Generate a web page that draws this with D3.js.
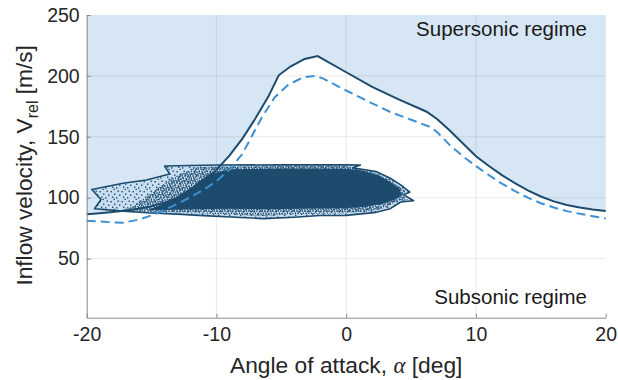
<!DOCTYPE html>
<html>
<head>
<meta charset="utf-8">
<script src="https://cdn.jsdelivr.net/npm/d3@7"></script>
<style>
  body { margin: 0; background: #fff; }
  svg { display: block; }
  text { font-family: "Liberation Sans", Arial, Helvetica, sans-serif; }
</style>
</head>
<body>
<svg id="chart" width="618" height="380"></svg>
<script>
// Axis ticks
const xTicks = [-20, -10, 0, 10, 20];
const yTicks = [50, 100, 150, 200, 250];

// Supersonic boundary (solid): angle of attack [deg] -> inflow velocity [m/s]
const boundaryAlpha = [-20, -19, -18, -17, -16, -15, -14, -13, -12, -11, -10, -9, -8, -7, -6, -5.2, -4.3, -3.2, -2.2, 0, 2, 4, 6.2, 7, 8, 9, 10, 11, 12, 13, 14, 15, 16, 17, 18, 19, 20];
const boundaryV     = [86.5, 87.3, 88.3, 89.5, 91, 93, 96, 100, 106, 113.5, 123, 134.5, 148.5, 165, 183, 200.5, 207.7, 213.9, 216.3, 203, 191, 181, 170.6, 164.6, 155, 144.5, 134, 126, 118.5, 112, 106, 101, 97, 94, 92, 90.3, 89];

// Second boundary (dashed)
const dashedAlpha = [-20, -19, -18, -17.2, -16, -15, -14, -13, -12, -11, -10, -9, -8, -7.4, -6.5, -5.5, -4.5, -3.3, -2.4, -1.8, 0, 1, 2, 3.4, 5, 6.5, 7, 8, 9, 10, 11, 12, 13, 14, 15, 16, 17, 18, 19, 20];
const dashedV     = [81, 80.5, 79.8, 79.5, 82, 85.5, 90, 95, 100.5, 106.5, 113.5, 123, 136, 148, 166, 182.5, 192.5, 198.9, 199.9, 198, 188, 182.8, 177.5, 170.4, 164, 158, 154, 143, 134, 126, 118.5, 111.5, 105.5, 100, 95.5, 92, 89, 86.8, 84.8, 83];

// Operating points: outer envelope of the scatter
const envelopeAlpha = [-19.6, -17.2, -15.4, -13.6, -14.0, -10, -5, 0, 1.1, 0.5, 2.3, 3.4, 4.2, 4.9, 4.4, 5.2, 4.2, 3.4, 2.3, 0, -2, -4, -6.4, -8.5, -11, -13, -15, -17.2, -19.4, -18.9];
const envelopeV     = [106.8, 111.9, 114.6, 119.5, 126, 126.8, 127, 127, 126.9, 124.5, 121.5, 116, 110.5, 104.5, 102.5, 97.5, 96.5, 91, 88, 85.5, 85.4, 84, 82.8, 84, 85.3, 86.5, 87.5, 89, 91, 98.5];

// Operating points: band of moderate point density
const bandAlpha = [-17, -15.8, -14.5, -13.2, -11.5, -5, 0, 0.8, 2.1, 3.2, 4.0, 4.6, 4.3, 4.8, 3.9, 3.1, 2.0, 0, -4, -6.4, -9, -12, -15];
const bandV     = [89.5, 98, 108, 117.5, 125.3, 126, 126, 124.5, 120.8, 115.5, 110, 104.8, 102.5, 98, 97.2, 92, 89.2, 87.2, 86.5, 85, 86.2, 87.5, 88.7];

// Operating points: dense core
const coreAlpha = [-15.3, -13.5, -12, -10.5, -9, -5, 0, 1.2, 2.5, 3.4, 4.1, 4.3, 3.8, 2.8, 1.5, 0, -3, -6, -9, -12, -14];
const coreV     = [89.8, 97.5, 108, 119.5, 123.3, 124, 123.8, 122.3, 118.5, 113, 107.5, 102, 98.5, 95, 92.5, 91.3, 91.2, 90.5, 91, 90.6, 90];

const pts = (a, v) => a.map((d, i) => [d, v[i]]);

const svg = d3.select('#chart');
const m = { left: 86.7, right: 605.7, top: 15, bottom: 317.7 };
const x = d3.scaleLinear().domain([-20, 20]).range([m.left, m.right]);
const y = d3.scaleLinear().domain([1.5, 250]).range([m.bottom, m.top]);

const dark = '#1c4b6e';
const lineGen = d3.line().x(d => x(d[0])).y(d => y(d[1]));
const polyGen = d3.line().x(d => x(d[0])).y(d => y(d[1])).curve(d3.curveLinearClosed);

// Dot textures for the scatter density
const defs = svg.append('defs');
const sparse = defs.append('pattern').attr('id', 'sparse').attr('patternUnits', 'userSpaceOnUse')
  .attr('width', 11).attr('height', 10);
[[0.5, 1], [4, 3.5], [7.5, 0.5], [2, 6.5], [6, 7.2], [9, 4.5], [3.5, 8.8]].forEach(p =>
  sparse.append('rect').attr('x', p[0]).attr('y', p[1]).attr('width', 1.4).attr('height', 1.4).attr('fill', dark));
const medium = defs.append('pattern').attr('id', 'medium').attr('patternUnits', 'userSpaceOnUse')
  .attr('width', 8).attr('height', 7);
[[0.2, 0.3], [2.8, 1.1], [5.6, 0.2], [1.3, 2.9], [4.2, 3.3], [6.8, 2.4], [0.1, 5.2], [2.7, 5.6], [5.3, 5.4], [7.2, 4.6], [3.6, 0.1], [1.9, 4.2]].forEach(p =>
  medium.append('rect').attr('x', p[0]).attr('y', p[1]).attr('width', 1.5).attr('height', 1.5).attr('fill', dark));

// Supersonic region (above the solid boundary)
const boundary = pts(boundaryAlpha, boundaryV);
svg.append('path')
  .datum(boundary)
  .attr('d', d3.area().x(d => x(d[0])).y0(y(250)).y1(d => y(d[1])))
  .attr('fill', '#d7e6f4');

// Grid
const grid = svg.append('g').attr('stroke', '#262626').attr('stroke-opacity', 0.1).attr('stroke-width', 1);
xTicks.filter(t => t > -20 && t < 20).forEach(t =>
  grid.append('line').attr('x1', x(t)).attr('x2', x(t)).attr('y1', m.top).attr('y2', m.bottom));
yTicks.filter(t => t < 250).forEach(t =>
  grid.append('line').attr('x1', m.left).attr('x2', m.right).attr('y1', y(t)).attr('y2', y(t)));

// Scatter cloud
const envelope = pts(envelopeAlpha, envelopeV);
svg.append('path').datum(envelope).attr('d', polyGen).attr('fill', '#c8ddf0');
svg.append('path').datum(envelope).attr('d', polyGen).attr('fill', 'url(#sparse)');
svg.append('path').datum(pts(bandAlpha, bandV)).attr('d', polyGen).attr('fill', 'url(#medium)');
svg.append('path').datum(pts(coreAlpha, coreV)).attr('d', polyGen).attr('fill', dark);
svg.append('path').datum(envelope).attr('d', polyGen)
  .attr('fill', 'none').attr('stroke', dark).attr('stroke-width', 1.6).attr('stroke-linejoin', 'round');

// Boundaries
svg.append('path').datum(boundary).attr('d', lineGen)
  .attr('fill', 'none').attr('stroke', dark).attr('stroke-width', 2);
svg.append('path').datum(pts(dashedAlpha, dashedV)).attr('d', lineGen)
  .attr('fill', 'none').attr('stroke', '#3d90d2').attr('stroke-width', 2).attr('stroke-dasharray', '9,5');

// Axes
const styleAxis = g => {
  g.select('.domain').attr('stroke', '#8a8a8a');
  g.selectAll('.tick line').attr('stroke', '#8a8a8a');
  g.selectAll('.tick text').attr('fill', '#262626').style('font-size', '19.5px')
    .style('font-family', '"Liberation Sans", Arial, sans-serif');
};
svg.append('g').attr('transform', `translate(0,${m.bottom})`)
  .call(d3.axisBottom(x).tickValues(xTicks).tickFormat(d => String(d)).tickSizeInner(-4).tickSizeOuter(0).tickPadding(9))
  .call(styleAxis);
svg.append('g').attr('transform', `translate(${m.left},0)`)
  .call(d3.axisLeft(y).tickValues(yTicks).tickFormat(d => String(d)).tickSizeInner(-4).tickSizeOuter(0).tickPadding(7))
  .call(styleAxis);

// Axis titles
const xl = svg.append('text').attr('x', (m.left + m.right) / 2).attr('y', 373)
  .attr('text-anchor', 'middle').attr('fill', '#262626').style('font-size', '22.8px');
xl.append('tspan').text('Angle of attack, ');
xl.append('tspan').text('α').style('font-family', '"Liberation Serif", "DejaVu Serif", serif').style('font-style', 'italic');
xl.append('tspan').text(' [deg]');

const yl = svg.append('text')
  .attr('transform', `translate(32,${(m.top + m.bottom) / 2 - 1}) rotate(-90)`)
  .attr('text-anchor', 'middle').attr('fill', '#262626').style('font-size', '22.7px');
yl.append('tspan').text('Inflow velocity, V');
yl.append('tspan').text('rel').style('font-size', '16px').attr('dy', 5.5);
yl.append('tspan').text(' [m/s]').attr('dy', -5.5);

// Region labels
svg.append('text').attr('x', 587).attr('y', 36).attr('text-anchor', 'end')
  .attr('fill', '#1a1a1a').style('font-size', '20.5px').text('Supersonic regime');
svg.append('text').attr('x', 587).attr('y', 303.5).attr('text-anchor', 'end')
  .attr('fill', '#1a1a1a').style('font-size', '20.5px').text('Subsonic regime');
</script>
</body>
</html>
